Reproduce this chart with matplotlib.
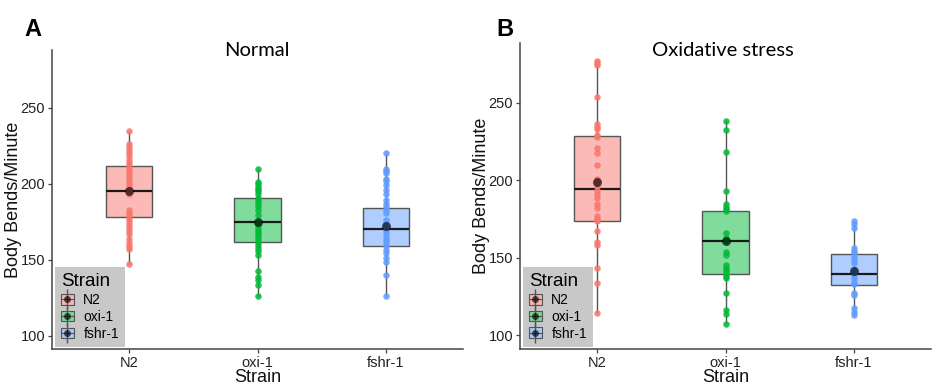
import numpy as np
import matplotlib
matplotlib.use("Agg")
import matplotlib.pyplot as plt
from matplotlib.patches import Patch
from matplotlib.lines import Line2D
from matplotlib.legend_handler import HandlerTuple

plt.rcParams['font.family'] = ['Liberation Sans', 'DejaVu Sans']

strains = ['N2', 'oxi-1', 'fshr-1']
colors = ['#F8766D', '#00BA38', '#619CFF']

# panel A: normal conditions, individual worms
normal_n2 = [235, 226, 224, 222, 220, 218, 216, 214, 212, 210, 208, 206, 204, 202,
             200, 198, 196, 195, 193, 183, 181, 179, 177, 175, 173, 171, 169, 167,
             164, 161, 159, 157, 147]
normal_oxi1 = [210, 201.5, 200, 198, 196.5, 195, 193, 191, 189.5, 187.5, 185.5, 183,
               179.5, 175, 173, 171, 169, 167.5, 166, 164, 162, 160, 157.5, 156,
               153, 143, 138.5, 136.5, 133.5, 126]
normal_fshr1 = [220, 210, 208.5, 207, 203.5, 202, 199, 196, 193, 189.5, 187, 185,
                183, 180.5, 176, 174, 172, 169.5, 167.5, 165, 163, 161, 159, 156.5,
                154.5, 151.5, 148.5, 140, 126]
# box stats: q1, median, q3, whisker low, whisker high, mean
normal_q1 = [178, 162, 159]
normal_med = [195, 175, 170]
normal_q3 = [212, 191, 184]
normal_lo = [147, 126, 126]
normal_hi = [235, 210, 220]
normal_mean = [195, 175, 172.5]

# panel B: oxidative stress
stress_n2 = [277, 275.5, 274, 254, 236, 234.5, 233, 229, 228, 221, 217.5, 210, 201,
             199, 196.5, 193.5, 191, 188.5, 185, 182, 177, 175, 173.5, 167, 160,
             158.5, 143.5, 134, 114.5]
stress_oxi1 = [238, 232.5, 218.5, 193, 184.5, 183, 181.5, 180, 166, 163, 161, 154,
               152, 145.5, 143.5, 142, 140, 138.5, 137, 127, 116.5, 113.5, 107]
stress_fshr1 = [173.5, 171.5, 169.5, 156, 154.5, 153, 150.5, 148.5, 146.5, 143, 141,
                139, 137, 134.5, 133, 127.5, 126, 117.5, 115, 113]
stress_q1 = [174, 139.5, 132.5]
stress_med = [194.5, 161, 139.5]
stress_q3 = [228.5, 180, 152.5]
stress_lo = [114.5, 107, 113]
stress_hi = [277, 238, 173.5]
stress_mean = [199, 161, 141.3]

W, H = 935, 389
fig = plt.figure(figsize=(W / 100, H / 100), dpi=100)


def draw_panel(rect, points, q1, med, q3, lo, hi, mean, ylim, title, letter, letter_x, title_x):
    ax = fig.add_axes(rect)
    pos = np.arange(1, len(strains) + 1)
    stats = []
    for i in range(len(strains)):
        stats.append(dict(med=med[i], q1=q1[i], q3=q3[i], whislo=lo[i], whishi=hi[i],
                          fliers=[], label=strains[i]))
    bp = ax.bxp(stats, positions=pos, widths=0.36, patch_artist=True, showcaps=False,
                boxprops=dict(edgecolor='#555555', linewidth=1.0),
                whiskerprops=dict(color='#555555', linewidth=1.0),
                medianprops=dict(color='#1a1a1a', linewidth=1.6), zorder=2)
    for patch, c in zip(bp['boxes'], colors):
        patch.set_facecolor(matplotlib.colors.to_rgba(c, 0.5))
    for i, vals in enumerate(points):
        ax.scatter(np.full(len(vals), pos[i]), vals, s=22, color=colors[i],
                   alpha=0.85, linewidths=0, zorder=3)
    ax.scatter(pos, mean, s=42, color='black', alpha=0.65, linewidths=0, zorder=4)

    ax.set_xlim(0.4, 3.6)
    ax.set_ylim(*ylim)
    ax.set_yticks([100, 150, 200, 250])
    ax.set_xticks(pos)
    ax.set_xticklabels(strains)
    for s in ['top', 'right']:
        ax.spines[s].set_visible(False)
    for s in ['left', 'bottom']:
        ax.spines[s].set_color('#444444')
        ax.spines[s].set_linewidth(1.1)
    ax.tick_params(length=3, width=0.9, color='#444444', labelsize=10.5,
                   labelcolor='#222222', pad=2)
    ax.set_xlabel('Strain', fontsize=13, labelpad=-1, color='#111111')
    ax.set_ylabel('Body Bends/Minute', fontsize=13, labelpad=-1, color='#111111')

    handles = []
    for c in colors:
        handles.append((Patch(facecolor='#f2f2f2', edgecolor='none'),
                        Patch(facecolor=matplotlib.colors.to_rgba(c, 0.5), edgecolor='#555555', linewidth=0.8),
                        Line2D([], [], color='#555555', lw=0.8),
                        Line2D([], [], color='#555555', marker='|', markersize=14, linestyle='none'),
                        Line2D([], [], color=matplotlib.colors.to_rgba('black', 0.65), marker='o',
                               markersize=5, markeredgewidth=0, linestyle='none')))
    leg = ax.legend(handles, strains, handler_map={tuple: HandlerTuple(ndivide=1, pad=0)},
                    title='Strain', loc='lower left', bbox_to_anchor=(0.007, 0.007),
                    borderaxespad=0, fontsize=10, title_fontsize=13.5,
                    handlelength=0.9, handleheight=0.8, handletextpad=0.7,
                    labelspacing=0.2, borderpad=0.45, fancybox=False,
                    frameon=True, alignment='left')
    leg.get_frame().set_facecolor('#c8c8c8')
    leg.get_frame().set_edgecolor('none')
    leg.get_frame().set_alpha(1)
    leg.set_zorder(5)

    fig.text(title_x / W, 1 - 50 / H, title, ha='center', va='center', fontsize=14.5,
             family=['Lato', 'DejaVu Sans'])
    fig.text(letter_x / W, 1 - 30 / H, letter, ha='left', va='center', fontsize=17,
             fontweight='bold')
    return ax


points_a = [normal_n2, normal_oxi1, normal_fshr1]
points_b = [stress_n2, stress_oxi1, stress_fshr1]

draw_panel([52 / W, 40 / H, 411 / W, 299 / H], points_a, normal_q1, normal_med, normal_q3,
           normal_lo, normal_hi, normal_mean, (91.4, 288), 'Normal', 'A', 24, 257)
draw_panel([520 / W, 40 / H, 411 / W, 306 / H], points_b, stress_q1, stress_med, stress_q3,
           stress_lo, stress_hi, stress_mean, (91.2, 288.5), 'Oxidative stress', 'B', 496, 723)

fig.savefig('out.png', dpi=100)
